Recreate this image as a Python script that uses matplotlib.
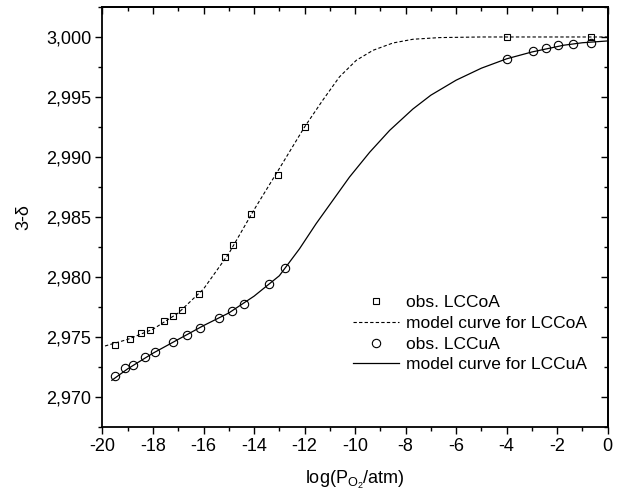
import numpy as np
import matplotlib
matplotlib.use("Agg")
import matplotlib.pyplot as plt
from matplotlib.ticker import MultipleLocator, FuncFormatter

plt.rcParams['font.family'] = ['Liberation Sans', 'DejaVu Sans']
plt.rcParams['mathtext.fontset'] = 'custom'
plt.rcParams['mathtext.rm'] = 'Liberation Sans'
plt.rcParams['mathtext.it'] = 'Liberation Sans'

# observed points, LCCoA (squares)
co_x = [-19.5, -18.9, -18.48, -18.13, -17.55, -17.19, -16.87, -16.16, -15.15,
        -14.85, -14.13, -13.06, -12.0, -4.0, -0.67]
co_y = [2.97437, 2.97487, 2.97533, 2.97556, 2.97633, 2.97675, 2.97728, 2.97858,
        2.98164, 2.98264, 2.98523, 2.98850, 2.99250, 3.0000, 3.0000]

# observed points, LCCuA (circles)
cu_x = [-19.5, -19.09, -18.78, -18.31, -17.92, -17.21, -16.65, -16.14, -15.39,
        -14.87, -14.41, -13.39, -12.76, -4.0, -2.97, -2.44, -1.98, -1.38, -0.67]
cu_y = [2.97178, 2.97239, 2.97264, 2.97331, 2.97375, 2.97458, 2.97517, 2.97573,
        2.97662, 2.97714, 2.97778, 2.97939, 2.98075, 2.99820, 2.99883, 2.99908,
        2.99933, 2.99944, 2.99950]

# model curve LCCoA (dashed)
mco_x = [-19.9, -19.0, -18.0, -17.0, -16.0, -15.0, -14.0, -13.0, -12.0, -11.28,
         -10.62, -9.95, -9.29, -8.5, -7.71, -6.65, -5.0, -2.5, 0.0]
mco_y = [2.97425, 2.97480, 2.97565, 2.97700, 2.97900, 2.98195, 2.98560, 2.98903,
         2.99250, 2.99473, 2.99667, 2.99806, 2.99889, 2.99950, 2.99981, 2.99995,
         3.0000, 3.0000, 3.0000]

# model curve LCCuA (solid)
mcu_x = [-19.63, -19.0, -18.0, -17.0, -16.0, -15.0, -14.0, -13.0, -12.2, -11.54,
         -10.88, -10.22, -9.42, -8.63, -7.71, -7.0, -6.0, -5.0, -4.0, -3.0,
         -1.75, -1.0, 0.0]
mcu_y = [2.97139, 2.97235, 2.97365, 2.97480, 2.97595, 2.97700, 2.97840, 2.98010,
         2.98235, 2.98445, 2.98639, 2.98833, 2.99040, 2.99222, 2.99400, 2.99515,
         2.99640, 2.99740, 2.99818, 2.99875, 2.99931, 2.99952, 2.99967]

fig = plt.figure(figsize=(6.23, 4.95), dpi=100)
ax = fig.add_axes([0.1645, 0.1374, 0.8109, 0.8485])

ax.plot(co_x, co_y, ls='none', marker='s', ms=5, mfc='none', mec='black',
        mew=0.8, label='obs. LCCoA')
ax.plot(mco_x, mco_y, ls=(0, (3, 2)), color='black', lw=0.8,
        label='model curve for LCCoA')
ax.plot(cu_x, cu_y, ls='none', marker='o', ms=6, mfc='none', mec='black',
        mew=0.8, label='obs. LCCuA')
ax.plot(mcu_x, mcu_y, ls='-', color='black', lw=0.9,
        label='model curve for LCCuA')

ax.set_xlim(-20, 0)
ax.set_ylim(2.9675, 3.0025)
ax.xaxis.set_major_locator(MultipleLocator(2))
ax.xaxis.set_minor_locator(MultipleLocator(1))
ax.yaxis.set_major_locator(MultipleLocator(0.005))
ax.yaxis.set_minor_locator(MultipleLocator(0.0025))
ax.xaxis.set_major_formatter(FuncFormatter(lambda v, p: f"{v:.0f}"))
ax.yaxis.set_major_formatter(FuncFormatter(lambda v, p: f"{v:.3f}".replace('.', ',')))

for s in ax.spines.values():
    s.set_linewidth(1.3)
ax.tick_params(which='major', direction='out', length=5, width=1.0, labelsize=13, pad=3)
ax.tick_params(which='minor', direction='out', length=2.7, width=1.0)

top = ax.secondary_xaxis('top')
top.xaxis.set_major_locator(MultipleLocator(2))
top.xaxis.set_minor_locator(MultipleLocator(1))
top.tick_params(which='major', direction='in', length=5, width=1.0, labeltop=False)
top.tick_params(which='minor', direction='in', length=2.7, width=1.0)
top.spines['top'].set_linewidth(1.3)

right = ax.secondary_yaxis('right')
right.yaxis.set_major_locator(MultipleLocator(0.005))
right.yaxis.set_minor_locator(MultipleLocator(0.0025))
right.tick_params(which='major', direction='in', length=5, width=1.0, labelright=False)
right.tick_params(which='minor', direction='in', length=2.7, width=1.0)
right.spines['right'].set_linewidth(1.3)

ax.set_xlabel(r'log(P$_{\mathrm{O_2}}$/atm)', fontsize=13, labelpad=10)
ax.set_ylabel('3-δ', fontsize=13, labelpad=10)

ax.legend(loc='center left', bbox_to_anchor=(0.49, 0.222), frameon=False,
          fontsize=12.5, handlelength=2.6, handletextpad=0.4, labelspacing=0.32,
          borderpad=0.2, borderaxespad=0)

fig.savefig('out.png', dpi=100)
